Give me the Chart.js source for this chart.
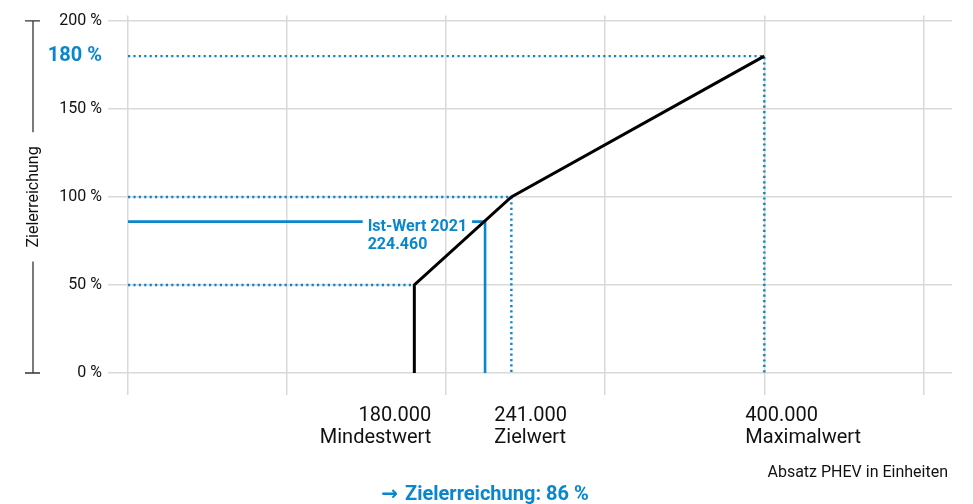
<!DOCTYPE html>
<html><head><meta charset="utf-8">
<script src="https://cdn.jsdelivr.net/npm/chart.js@4.4.0/dist/chart.umd.min.js"></script>
<style>html,body{margin:0;padding:0;background:#fff;}#wrap{width:973px;height:504px;position:relative;}</style>
</head><body><div id="wrap"><canvas id="c"></canvas></div>
<script>
// ---- data ----
const curveX = [180000, 180000, 241000, 400000];   // Absatz (Einheiten)
const curveY = [0, 50, 100, 180];                  // Zielerreichung (%)
const yTicks = [0, 50, 100, 150, 180, 200];
const xGridTicks = [0, 100000, 200000, 300000, 400000, 500000];
const markerValues = [180000, 241000, 400000];
const markerLabels = ['180.000', '241.000', '400.000'];
const markerNames = ['Mindestwert', 'Zielwert', 'Maximalwert'];
const minPercent = 50, targetPercent = 100, maxPercent = 180;
const actualValue = 224460;
const actualPercent = 86;
const actualLabel = ['Ist-Wert 2021', '224.460'];
const yTitle = 'Zielerreichung';
const xTitle = 'Absatz PHEV in Einheiten';
const resultArrow = '→';
const resultText = 'Zielerreichung: 86 %';

// ---- style ----
const BLUE = '#0a86cc';
const GRID = '#d9d9d9';
const FONT = 'Roboto, "Noto Sans", sans-serif';
const DOT = [2.2, 3.2];

const pts = (xs, ys) => xs.map((x, i) => ({x, y: ys[i]}));

const datasets = [
  { data: pts(curveX, curveY), borderColor: '#000', borderWidth: 3 },
  { data: pts([0, actualValue, actualValue], [actualPercent, actualPercent, 0]), borderColor: BLUE, borderWidth: 2.6 },
  { data: pts([0, markerValues[0]], [minPercent, minPercent]), borderColor: BLUE, borderWidth: 2.4, borderDash: DOT },
  { data: pts([0, markerValues[1], markerValues[1]], [targetPercent, targetPercent, 0]), borderColor: BLUE, borderWidth: 2.4, borderDash: DOT },
  { data: pts([0, markerValues[2], markerValues[2]], [maxPercent, maxPercent, 0]), borderColor: BLUE, borderWidth: 2.4, borderDash: DOT }
].map(d => Object.assign({ showLine: true, pointRadius: 0, fill: false, tension: 0, clip: false, borderJoinStyle: 'miter' }, d));

const annot = {
  id: 'annot',
  afterDatasetsDraw(chart) {
    const ctx = chart.ctx, xs = chart.scales.x, ys = chart.scales.y, ca = chart.chartArea;
    ctx.save();
    // Ist-Wert label with white gap
    const xa = xs.getPixelForValue(actualValue), ya = ys.getPixelForValue(actualPercent);
    ctx.font = 'bold 16px ' + FONT;
    const w = ctx.measureText(actualLabel[0]).width;
    const right = xa - 18, left = right - w;
    ctx.fillStyle = '#fff';
    ctx.fillRect(left - 5, ya - 5, w + 10, 10);
    ctx.fillStyle = BLUE;
    ctx.textAlign = 'left'; ctx.textBaseline = 'alphabetic';
    ctx.fillText(actualLabel[0], left, ya + 9);
    ctx.fillText(actualLabel[1], left, ya + 27);

    // x marker labels
    const aligns = ['right', 'left', 'left'];
    const offs = [17, -17, -19];
    ctx.font = '20px ' + FONT;
    ctx.fillStyle = '#111';
    markerValues.forEach((v, i) => {
      const px = xs.getPixelForValue(v) + offs[i];
      ctx.textAlign = aligns[i];
      ctx.fillText(markerLabels[i], px, ca.bottom + 48);
      ctx.fillText(markerNames[i], px, ca.bottom + 70);
    });

    // x title
    ctx.font = '16px ' + FONT;
    ctx.textAlign = 'right';
    ctx.fillText(xTitle, ca.right - 4, ca.bottom + 104);

    // result line: arrow + text
    ctx.fillStyle = BLUE;
    ctx.textAlign = 'left';
    ctx.font = 'bold 20px "DejaVu Sans", sans-serif';
    const aw = ctx.measureText(resultArrow + ' ').width;
    ctx.font = 'bold 20px ' + FONT;
    const rw = ctx.measureText(resultText).width;
    const startX = 485 - (aw + rw) / 2;
    ctx.font = 'bold 20px "DejaVu Sans", sans-serif';
    ctx.fillText(resultArrow, startX, ca.bottom + 127);
    ctx.font = 'bold 20px ' + FONT;
    ctx.fillText(resultText, startX + aw, ca.bottom + 127);

    // y bracket + title
    const yTop = ys.getPixelForValue(200), yBot = ys.getPixelForValue(0);
    const bx = 33, mid = (yTop + yBot) / 2;
    ctx.font = '16px ' + FONT;
    const tw = ctx.measureText(yTitle).width;
    ctx.strokeStyle = '#333'; ctx.lineWidth = 1.3;
    ctx.beginPath();
    ctx.moveTo(bx - 8, yTop); ctx.lineTo(bx + 7, yTop);
    ctx.moveTo(bx, yTop); ctx.lineTo(bx, mid - tw / 2 - 14);
    ctx.moveTo(bx, mid + tw / 2 + 14); ctx.lineTo(bx, yBot);
    ctx.moveTo(bx - 8, yBot); ctx.lineTo(bx + 7, yBot);
    ctx.stroke();
    ctx.translate(bx + 1, mid);
    ctx.rotate(-Math.PI / 2);
    ctx.fillStyle = '#111';
    ctx.textAlign = 'center'; ctx.textBaseline = 'middle';
    ctx.fillText(yTitle, 0, 0);
    ctx.restore();
  }
};

new Chart(document.getElementById('c'), {
  type: 'scatter',
  data: { datasets },
  plugins: [annot],
  options: {
    responsive: true, maintainAspectRatio: false, animation: false,
    layout: { padding: { top: 14, right: 21, left: 0, bottom: 0 } },
    plugins: { legend: { display: false }, tooltip: { enabled: false } },
    scales: {
      x: {
        type: 'linear', min: 0, max: 518000,
        afterBuildTicks: s => { s.ticks = xGridTicks.map(v => ({ value: v })); },
        afterFit: s => { s.height = 131; },
        ticks: { display: false },
        grid: { color: GRID, lineWidth: 1.5, tickLength: 22, drawTicks: true },
        border: { display: false }
      },
      y: {
        type: 'linear', min: 0, max: 203,
        afterBuildTicks: s => { s.ticks = yTicks.map(v => ({ value: v })); },
        afterFit: s => { s.width = 128; },
        ticks: {
          padding: 6,
          callback: v => v + ' %',
          font: c => (c.tick && c.tick.value === maxPercent) ? { family: FONT, size: 20, weight: 'bold' } : { family: FONT, size: 16 },
          color: c => (c.tick && c.tick.value === maxPercent) ? BLUE : '#111'
        },
        grid: {
          color: c => (c.tick && c.tick.value === maxPercent) ? 'rgba(0,0,0,0)' : GRID,
          lineWidth: 1.5, tickLength: 20
        },
        border: { display: false }
      }
    }
  }
});
</script></body></html>
